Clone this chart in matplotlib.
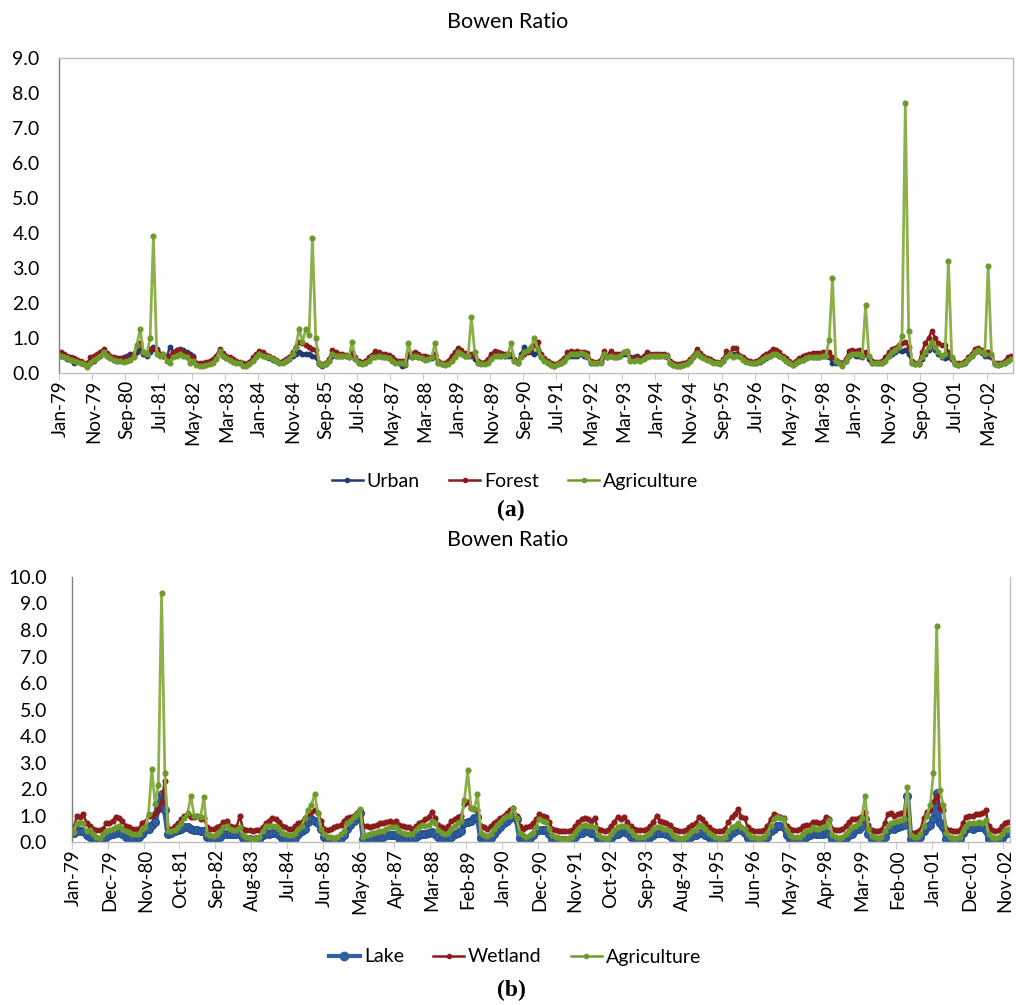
import matplotlib
matplotlib.use("Agg")
import matplotlib.pyplot as plt
import numpy as np
from matplotlib.lines import Line2D

# ---------------------------------------------------------------------------
# Data: monthly Bowen ratio, Jan-79 .. Dec-02 (one row per year)
# ---------------------------------------------------------------------------
urban = [
    0.50, 0.48, 0.40, 0.38, 0.30, 0.38, 0.30, 0.25, 0.20, 0.30, 0.35, 0.45,  # 1979
    0.50, 0.60, 0.50, 0.42, 0.38, 0.35, 0.40, 0.45, 0.50, 0.55, 0.50, 0.60,  # 1980
    0.65, 0.55, 0.50, 0.60, 0.75, 0.70, 0.55, 0.50, 0.45, 0.75, 0.60, 0.65,  # 1981
    0.70, 0.65, 0.60, 0.55, 0.50, 0.30, 0.25, 0.25, 0.25, 0.28, 0.35, 0.45,  # 1982
    0.60, 0.50, 0.42, 0.38, 0.35, 0.32, 0.30, 0.25, 0.25, 0.28, 0.38, 0.48,  # 1983
    0.55, 0.52, 0.48, 0.42, 0.38, 0.35, 0.30, 0.32, 0.35, 0.40, 0.50, 0.55,  # 1984
    0.60, 0.55, 0.55, 0.55, 0.50, 0.45, 0.25, 0.20, 0.25, 0.35, 0.50, 0.50,  # 1985
    0.50, 0.50, 0.48, 0.45, 0.55, 0.40, 0.30, 0.28, 0.30, 0.40, 0.45, 0.52,  # 1986
    0.50, 0.48, 0.45, 0.42, 0.38, 0.32, 0.30, 0.20, 0.22, 0.50, 0.45, 0.50,  # 1987
    0.45, 0.42, 0.40, 0.40, 0.42, 0.50, 0.30, 0.25, 0.25, 0.30, 0.42, 0.50,  # 1988
    0.60, 0.60, 0.50, 0.50, 0.50, 0.40, 0.30, 0.28, 0.28, 0.35, 0.45, 0.55,  # 1989
    0.52, 0.50, 0.50, 0.50, 0.50, 0.35, 0.30, 0.55, 0.75, 0.65, 0.60, 0.55,  # 1990
    0.60, 0.45, 0.38, 0.30, 0.22, 0.20, 0.25, 0.30, 0.35, 0.45, 0.50, 0.50,  # 1991
    0.50, 0.55, 0.50, 0.45, 0.30, 0.28, 0.30, 0.32, 0.50, 0.45, 0.48, 0.45,  # 1992
    0.45, 0.50, 0.55, 0.55, 0.38, 0.45, 0.50, 0.42, 0.42, 0.50, 0.50, 0.50,  # 1993
    0.50, 0.50, 0.48, 0.45, 0.30, 0.22, 0.20, 0.20, 0.22, 0.28, 0.35, 0.45,  # 1994
    0.58, 0.50, 0.45, 0.40, 0.38, 0.32, 0.30, 0.28, 0.35, 0.50, 0.52, 0.55,  # 1995
    0.55, 0.48, 0.42, 0.38, 0.32, 0.30, 0.30, 0.32, 0.38, 0.42, 0.50, 0.55,  # 1996
    0.55, 0.50, 0.42, 0.35, 0.30, 0.22, 0.28, 0.35, 0.38, 0.42, 0.45, 0.45,  # 1997
    0.45, 0.45, 0.48, 0.50, 0.45, 0.30, 0.30, 0.28, 0.25, 0.35, 0.50, 0.55,  # 1998
    0.48, 0.50, 0.45, 0.55, 0.40, 0.30, 0.28, 0.28, 0.30, 0.40, 0.50, 0.55,  # 1999
    0.60, 0.65, 0.62, 0.65, 0.55, 0.30, 0.25, 0.25, 0.40, 0.55, 0.65, 0.75,  # 2000
    0.65, 0.55, 0.45, 0.42, 0.45, 0.40, 0.25, 0.22, 0.25, 0.30, 0.40, 0.50,  # 2001
    0.60, 0.62, 0.58, 0.50, 0.50, 0.45, 0.25, 0.22, 0.25, 0.30, 0.38, 0.45,  # 2002
]
forest = [
    0.60, 0.55, 0.50, 0.45, 0.42, 0.38, 0.35, 0.30, 0.28, 0.45, 0.48, 0.55,
    0.60, 0.70, 0.58, 0.48, 0.45, 0.42, 0.42, 0.40, 0.42, 0.45, 0.55, 0.75,
    0.85, 0.60, 0.55, 0.70, 0.70, 0.65, 0.55, 0.50, 0.45, 0.50, 0.60, 0.65,
    0.65, 0.60, 0.55, 0.50, 0.45, 0.30, 0.28, 0.30, 0.32, 0.35, 0.40, 0.50,
    0.70, 0.58, 0.50, 0.45, 0.40, 0.35, 0.32, 0.28, 0.25, 0.32, 0.45, 0.55,
    0.62, 0.60, 0.52, 0.48, 0.42, 0.38, 0.32, 0.35, 0.40, 0.45, 0.60, 0.75,
    0.90, 0.85, 0.80, 0.75, 0.70, 0.65, 0.30, 0.25, 0.30, 0.40, 0.65, 0.60,
    0.55, 0.55, 0.52, 0.50, 0.60, 0.45, 0.35, 0.30, 0.35, 0.45, 0.52, 0.62,
    0.60, 0.55, 0.55, 0.52, 0.45, 0.38, 0.35, 0.35, 0.35, 0.55, 0.55, 0.60,
    0.55, 0.50, 0.48, 0.45, 0.45, 0.55, 0.35, 0.30, 0.28, 0.35, 0.50, 0.60,
    0.72, 0.65, 0.58, 0.55, 0.55, 0.45, 0.35, 0.30, 0.32, 0.40, 0.55, 0.62,
    0.60, 0.58, 0.55, 0.55, 0.55, 0.40, 0.32, 0.45, 0.55, 0.60, 0.70, 0.80,
    0.90, 0.55, 0.42, 0.35, 0.28, 0.25, 0.30, 0.35, 0.42, 0.60, 0.62, 0.60,
    0.62, 0.60, 0.60, 0.58, 0.35, 0.32, 0.32, 0.38, 0.62, 0.50, 0.62, 0.55,
    0.55, 0.55, 0.60, 0.60, 0.45, 0.40, 0.45, 0.40, 0.48, 0.60, 0.55, 0.55,
    0.55, 0.55, 0.55, 0.52, 0.35, 0.28, 0.25, 0.25, 0.28, 0.32, 0.40, 0.50,
    0.68, 0.58, 0.48, 0.42, 0.40, 0.35, 0.32, 0.30, 0.40, 0.62, 0.55, 0.72,
    0.72, 0.50, 0.45, 0.38, 0.35, 0.32, 0.35, 0.40, 0.50, 0.55, 0.60, 0.68,
    0.65, 0.60, 0.50, 0.42, 0.35, 0.28, 0.35, 0.42, 0.48, 0.52, 0.55, 0.57,
    0.57, 0.58, 0.60, 0.60, 0.60, 0.45, 0.38, 0.32, 0.30, 0.40, 0.62, 0.65,
    0.62, 0.65, 0.60, 0.60, 0.45, 0.35, 0.32, 0.32, 0.35, 0.45, 0.60, 0.68,
    0.72, 0.80, 0.85, 0.90, 0.75, 0.35, 0.28, 0.28, 0.60, 0.85, 1.00, 1.20,
    1.00, 0.85, 0.80, 0.80, 0.60, 0.40, 0.30, 0.28, 0.30, 0.35, 0.45, 0.55,
    0.70, 0.72, 0.65, 0.60, 0.60, 0.50, 0.30, 0.28, 0.30, 0.35, 0.45, 0.50,
]
agri_a = [
    0.50, 0.45, 0.42, 0.38, 0.35, 0.32, 0.28, 0.25, 0.18, 0.30, 0.38, 0.42,
    0.50, 0.60, 0.50, 0.42, 0.38, 0.35, 0.35, 0.32, 0.35, 0.38, 0.45, 0.80,
    1.25, 0.60, 0.55, 1.00, 3.90, 0.55, 0.50, 0.55, 0.35, 0.30, 0.45, 0.50,
    0.55, 0.50, 0.45, 0.30, 0.35, 0.22, 0.20, 0.20, 0.22, 0.25, 0.30, 0.40,
    0.62, 0.50, 0.42, 0.38, 0.32, 0.30, 0.28, 0.20, 0.20, 0.25, 0.35, 0.45,
    0.55, 0.50, 0.45, 0.45, 0.40, 0.35, 0.30, 0.30, 0.35, 0.40, 0.55, 0.75,
    1.25, 0.90, 1.25, 1.10, 3.85, 1.00, 0.30, 0.22, 0.25, 0.35, 0.55, 0.50,
    0.50, 0.48, 0.50, 0.45, 0.90, 0.40, 0.30, 0.25, 0.28, 0.35, 0.45, 0.45,
    0.48, 0.45, 0.45, 0.42, 0.35, 0.30, 0.30, 0.28, 0.25, 0.85, 0.45, 0.50,
    0.45, 0.42, 0.38, 0.40, 0.45, 0.85, 0.30, 0.25, 0.22, 0.25, 0.35, 0.45,
    0.60, 0.55, 0.50, 0.50, 1.60, 0.60, 0.30, 0.25, 0.25, 0.30, 0.40, 0.50,
    0.50, 0.48, 0.50, 0.55, 0.85, 0.35, 0.28, 0.45, 0.60, 0.65, 0.75, 1.00,
    0.70, 0.45, 0.35, 0.30, 0.22, 0.20, 0.25, 0.30, 0.35, 0.45, 0.55, 0.55,
    0.55, 0.58, 0.55, 0.50, 0.30, 0.28, 0.28, 0.30, 0.55, 0.45, 0.50, 0.45,
    0.45, 0.50, 0.60, 0.62, 0.35, 0.35, 0.38, 0.35, 0.40, 0.45, 0.50, 0.50,
    0.50, 0.50, 0.50, 0.48, 0.30, 0.22, 0.20, 0.20, 0.22, 0.25, 0.35, 0.45,
    0.58, 0.50, 0.42, 0.38, 0.35, 0.30, 0.28, 0.25, 0.35, 0.45, 0.55, 0.45,
    0.50, 0.45, 0.38, 0.32, 0.30, 0.28, 0.30, 0.35, 0.40, 0.45, 0.50, 0.55,
    0.55, 0.50, 0.42, 0.35, 0.30, 0.22, 0.28, 0.35, 0.38, 0.42, 0.45, 0.45,
    0.45, 0.47, 0.48, 0.50, 0.95, 2.70, 0.35, 0.30, 0.20, 0.35, 0.50, 0.55,
    0.55, 0.55, 0.50, 1.93, 0.50, 0.30, 0.28, 0.28, 0.30, 0.35, 0.50, 0.60,
    0.65, 0.75, 1.05, 7.70, 1.20, 0.30, 0.25, 0.25, 0.45, 0.60, 0.75, 0.90,
    0.75, 0.60, 0.50, 0.55, 3.20, 0.45, 0.25, 0.22, 0.25, 0.30, 0.40, 0.50,
    0.60, 0.65, 0.60, 0.55, 3.05, 0.55, 0.25, 0.22, 0.25, 0.30, 0.35, 0.40,
]

lake = [
    0.35, 0.45, 0.42, 0.40, 0.25, 0.20, 0.15, 0.10, 0.08, 0.12, 0.20, 0.25,  # 1979
    0.30, 0.35, 0.38, 0.30, 0.20, 0.18, 0.15, 0.15, 0.20, 0.30, 0.45, 0.50,  # 1980
    0.65, 0.75, 1.30, 1.80, 1.20, 0.30, 0.35, 0.40, 0.45, 0.50, 0.55, 0.55,  # 1981
    0.50, 0.45, 0.45, 0.40, 0.40, 0.20, 0.15, 0.12, 0.15, 0.20, 0.30, 0.30,  # 1982
    0.30, 0.30, 0.30, 0.30, 0.15, 0.12, 0.10, 0.08, 0.10, 0.12, 0.25, 0.35,  # 1983
    0.32, 0.35, 0.33, 0.25, 0.15, 0.12, 0.10, 0.10, 0.15, 0.30, 0.40, 0.50,  # 1984
    0.75, 0.85, 0.80, 0.70, 0.50, 0.20, 0.10, 0.08, 0.08, 0.10, 0.15, 0.25,  # 1985
    0.50, 0.65, 0.80, 0.95, 1.10, 0.10, 0.12, 0.15, 0.15, 0.18, 0.20, 0.20,  # 1986
    0.25, 0.28, 0.25, 0.25, 0.15, 0.12, 0.10, 0.10, 0.12, 0.20, 0.25, 0.30,  # 1987
    0.30, 0.35, 0.38, 0.30, 0.20, 0.12, 0.10, 0.12, 0.20, 0.30, 0.35, 0.40,  # 1988
    0.70, 0.75, 0.80, 0.90, 0.95, 0.15, 0.10, 0.10, 0.15, 0.30, 0.45, 0.55,  # 1989
    0.70, 0.80, 0.90, 1.00, 0.85, 0.15, 0.08, 0.10, 0.15, 0.25, 0.40, 0.45,  # 1990
    0.45, 0.45, 0.30, 0.12, 0.10, 0.08, 0.07, 0.07, 0.08, 0.12, 0.20, 0.30,  # 1991
    0.35, 0.40, 0.40, 0.35, 0.30, 0.12, 0.08, 0.07, 0.08, 0.15, 0.25, 0.30,  # 1992
    0.38, 0.40, 0.35, 0.20, 0.10, 0.08, 0.07, 0.07, 0.10, 0.18, 0.28, 0.35,  # 1993
    0.35, 0.33, 0.30, 0.22, 0.10, 0.08, 0.07, 0.07, 0.10, 0.15, 0.22, 0.28,  # 1994
    0.35, 0.35, 0.28, 0.18, 0.10, 0.08, 0.07, 0.07, 0.08, 0.20, 0.35, 0.40,  # 1995
    0.55, 0.45, 0.35, 0.15, 0.08, 0.07, 0.06, 0.06, 0.08, 0.20, 0.40, 0.50,  # 1996
    0.60, 0.60, 0.55, 0.25, 0.10, 0.07, 0.06, 0.07, 0.12, 0.20, 0.28, 0.35,  # 1997
    0.30, 0.30, 0.32, 0.35, 0.30, 0.10, 0.07, 0.06, 0.08, 0.15, 0.25, 0.32,  # 1998
    0.45, 0.50, 0.60, 0.85, 0.30, 0.10, 0.07, 0.06, 0.08, 0.20, 0.45, 0.55,  # 1999
    0.50, 0.55, 0.60, 0.65, 1.73, 0.10, 0.07, 0.07, 0.20, 0.40, 0.55, 0.65,  # 2000
    0.85, 1.85, 0.70, 0.55, 0.10, 0.07, 0.06, 0.06, 0.10, 0.35, 0.50, 0.55,  # 2001
    0.50, 0.55, 0.55, 0.55, 0.45, 0.10, 0.07, 0.06, 0.08, 0.15, 0.30, 0.35,  # 2002
]
wetland = [
    0.55, 0.98, 0.95, 1.05, 0.70, 0.60, 0.50, 0.45, 0.45, 0.50, 0.70, 0.72,
    0.80, 0.95, 0.90, 0.80, 0.60, 0.55, 0.50, 0.50, 0.50, 0.72, 0.75, 1.00,
    1.00, 1.10, 1.20, 1.50, 2.30, 0.50, 0.50, 0.60, 0.70, 0.85, 1.00, 1.05,
    0.95, 0.95, 1.00, 0.85, 0.90, 0.55, 0.50, 0.50, 0.55, 0.60, 0.75, 0.80,
    0.60, 0.55, 0.55, 0.98, 0.50, 0.45, 0.45, 0.40, 0.45, 0.45, 0.55, 0.70,
    0.80, 0.90, 0.85, 0.75, 0.60, 0.55, 0.50, 0.50, 0.60, 0.70, 0.75, 0.90,
    1.10, 1.15, 1.20, 1.10, 0.80, 0.50, 0.45, 0.50, 0.55, 0.60, 0.65, 0.80,
    0.90, 0.95, 1.00, 1.10, 1.20, 0.60, 0.60, 0.55, 0.60, 0.65, 0.70, 0.70,
    0.75, 0.80, 0.72, 0.80, 0.65, 0.60, 0.55, 0.55, 0.50, 0.60, 0.70, 0.75,
    0.85, 0.95, 1.15, 0.90, 0.65, 0.55, 0.50, 0.60, 0.80, 0.85, 0.95, 1.00,
    1.45, 1.50, 1.30, 1.25, 1.20, 0.60, 0.55, 0.50, 0.60, 0.70, 0.80, 0.90,
    1.00, 1.10, 1.20, 1.30, 1.00, 0.60, 0.50, 0.55, 0.60, 0.70, 0.85, 1.05,
    1.00, 0.95, 0.75, 0.50, 0.45, 0.42, 0.40, 0.40, 0.42, 0.45, 0.60, 0.75,
    0.85, 0.90, 0.85, 0.80, 0.90, 0.50, 0.45, 0.42, 0.45, 0.60, 0.75, 0.95,
    0.85, 0.95, 0.75, 0.60, 0.50, 0.45, 0.45, 0.45, 0.50, 0.60, 0.75, 1.00,
    0.80, 0.75, 0.72, 0.65, 0.50, 0.45, 0.42, 0.40, 0.45, 0.55, 0.65, 0.70,
    0.95, 0.85, 0.70, 0.55, 0.45, 0.42, 0.40, 0.40, 0.50, 0.75, 0.95, 1.05,
    1.25, 0.95, 0.90, 0.55, 0.45, 0.42, 0.40, 0.40, 0.45, 0.60, 0.85, 1.05,
    1.00, 0.95, 0.90, 0.60, 0.50, 0.45, 0.45, 0.50, 0.60, 0.65, 0.65, 0.75,
    0.75, 0.70, 0.75, 0.95, 0.85, 0.50, 0.45, 0.45, 0.50, 0.60, 0.75, 0.85,
    0.85, 0.90, 1.00, 1.15, 0.65, 0.45, 0.42, 0.40, 0.45, 0.70, 1.05, 1.10,
    1.00, 1.05, 1.10, 1.10, 1.20, 0.35, 0.35, 0.38, 0.45, 0.90, 1.15, 1.20,
    1.50, 1.75, 1.30, 1.20, 0.50, 0.45, 0.42, 0.40, 0.45, 0.70, 0.95, 1.00,
    1.00, 1.05, 1.05, 1.10, 1.20, 0.60, 0.45, 0.42, 0.45, 0.60, 0.70, 0.75,
]
agri_b = [
    0.38, 0.72, 0.70, 0.70, 0.40, 0.45, 0.30, 0.20, 0.15, 0.30, 0.40, 0.45,
    0.50, 0.55, 0.60, 0.50, 0.40, 0.38, 0.30, 0.30, 0.30, 0.50, 0.55, 1.05,
    2.75, 1.45, 2.15, 9.40, 2.60, 0.40, 0.42, 0.45, 0.55, 0.70, 0.90, 1.10,
    1.73, 1.00, 1.00, 0.95, 1.70, 0.30, 0.25, 0.22, 0.30, 0.40, 0.55, 0.60,
    0.50, 0.45, 0.45, 0.57, 0.25, 0.20, 0.15, 0.12, 0.15, 0.20, 0.40, 0.60,
    0.60, 0.62, 0.60, 0.50, 0.35, 0.30, 0.25, 0.25, 0.35, 0.50, 0.60, 0.90,
    1.20, 1.40, 1.80, 1.10, 0.50, 0.30, 0.20, 0.18, 0.15, 0.20, 0.30, 0.40,
    0.70, 0.80, 0.95, 1.05, 1.25, 0.20, 0.25, 0.30, 0.35, 0.38, 0.40, 0.40,
    0.50, 0.55, 0.55, 0.55, 0.40, 0.35, 0.30, 0.30, 0.30, 0.45, 0.55, 0.65,
    0.60, 0.65, 0.80, 0.70, 0.45, 0.35, 0.30, 0.35, 0.50, 0.60, 0.70, 0.80,
    1.60, 2.70, 1.30, 1.25, 1.80, 0.35, 0.25, 0.22, 0.30, 0.50, 0.65, 0.75,
    0.90, 1.00, 1.00, 1.30, 0.90, 0.35, 0.25, 0.20, 0.25, 0.35, 0.55, 0.85,
    0.80, 0.75, 0.50, 0.25, 0.18, 0.15, 0.12, 0.12, 0.15, 0.20, 0.35, 0.50,
    0.60, 0.65, 0.62, 0.60, 0.55, 0.25, 0.18, 0.15, 0.15, 0.30, 0.45, 0.55,
    0.60, 0.62, 0.55, 0.40, 0.25, 0.20, 0.18, 0.18, 0.25, 0.35, 0.50, 0.55,
    0.55, 0.50, 0.50, 0.40, 0.25, 0.18, 0.15, 0.15, 0.20, 0.30, 0.40, 0.45,
    0.65, 0.60, 0.50, 0.35, 0.25, 0.20, 0.15, 0.15, 0.20, 0.40, 0.55, 0.60,
    0.70, 0.55, 0.50, 0.30, 0.20, 0.18, 0.15, 0.15, 0.20, 0.35, 0.60, 0.85,
    0.95, 0.90, 0.85, 0.45, 0.25, 0.20, 0.18, 0.20, 0.30, 0.40, 0.45, 0.55,
    0.50, 0.50, 0.55, 0.60, 0.82, 0.25, 0.18, 0.15, 0.18, 0.30, 0.45, 0.55,
    0.60, 0.70, 0.90, 1.73, 0.50, 0.22, 0.18, 0.15, 0.20, 0.40, 0.60, 0.70,
    0.75, 0.80, 0.82, 0.85, 2.08, 0.25, 0.20, 0.20, 0.30, 0.60, 1.00, 1.40,
    2.60, 8.15, 1.95, 1.40, 0.35, 0.20, 0.15, 0.15, 0.20, 0.40, 0.60, 0.70,
    0.70, 0.72, 0.75, 0.70, 0.82, 0.30, 0.20, 0.15, 0.20, 0.30, 0.45, 0.50,
]

labels_a = ["Jan-79", "Nov-79", "Sep-80", "Jul-81", "May-82", "Mar-83",
            "Jan-84", "Nov-84", "Sep-85", "Jul-86", "May-87", "Mar-88",
            "Jan-89", "Nov-89", "Sep-90", "Jul-91", "May-92", "Mar-93",
            "Jan-94", "Nov-94", "Sep-95", "Jul-96", "May-97", "Mar-98",
            "Jan-99", "Nov-99", "Sep-00", "Jul-01", "May-02"]
labels_b = ["Jan-79", "Dec-79", "Nov-80", "Oct-81", "Sep-82", "Aug-83",
            "Jul-84", "Jun-85", "May-86", "Apr-87", "Mar-88", "Feb-89",
            "Jan-90", "Dec-90", "Nov-91", "Oct-92", "Sep-93", "Aug-94",
            "Jul-95", "Jun-96", "May-97", "Apr-98", "Mar-99", "Feb-00",
            "Jan-01", "Dec-01", "Nov-02"]
step_a = 10
step_b = 11

BLUE_A = "#1F3B73"
BLUE_B = "#2F60A3"
RED = "#8C1B1B"
GREEN = "#8DB04A"
GREEN_DK = "#6E9A2C"
FONT = "Lato"

plt.rcParams["font.family"] = FONT

W, H = 1016, 1005
fig = plt.figure(figsize=(W / 100, H / 100), dpi=100)


def fx(px):
    return px / W


def fy(py):
    return 1 - py / H


def style_axis(ax, n, labels, step, ymax, ypad):
    ax.set_xlim(-0.5, n - 0.5)
    ax.set_ylim(0, ymax)
    yt = np.arange(0, ymax + 0.01, 1.0)
    ax.set_yticks(yt)
    ax.set_yticklabels([f"{v:.1f}" for v in yt], fontsize=14)
    pos = np.arange(len(labels)) * step
    ax.set_xticks(pos)
    ax.set_xticklabels(labels, rotation=90, fontsize=13.5)
    ax.tick_params(axis="x", which="major", length=0, pad=5)
    ax.set_xticks(np.arange(0, n + 1, step) - 0.5, minor=True)
    ax.tick_params(axis="x", which="minor", length=5, color="#BFBFBF")
    ax.tick_params(axis="y", length=0, pad=ypad)
    for s in ax.spines.values():
        s.set_color("#BFBFBF")
        s.set_linewidth(1.0)


# ---------------------------------------------------------------------------
# (a) Urban / Forest / Agriculture
# ---------------------------------------------------------------------------
ax1 = fig.add_axes([fx(59), fy(373), fx(1013) - fx(59), fy(58) - fy(373)])
xa = np.arange(len(urban))
ax1.plot(xa, urban, color=BLUE_A, lw=1.8, marker="o", ms=3.2,
         mfc=BLUE_A, mec=BLUE_A)
ax1.plot(xa, forest, color=RED, lw=1.8, marker="o", ms=3.2, mfc=RED, mec=RED)
ax1.plot(xa, agri_a, color=GREEN, lw=2.0, marker="o", ms=3.4,
         mfc=GREEN_DK, mec=GREEN_DK)
style_axis(ax1, len(urban), labels_a, step_a, 9.0, 14)
ax1.spines["left"].set_color("#808080")

fig.text(0.5, fy(22), "Bowen Ratio", ha="center", va="center", fontsize=15.5)
handles_a = [
    Line2D([], [], color=BLUE_A, lw=1.8, marker="o", ms=3),
    Line2D([], [], color=RED, lw=1.8, marker="o", ms=3),
    Line2D([], [], color=GREEN_DK, lw=1.8, marker="o", ms=3),
]
fig.legend(handles_a, ["Urban", "Forest", "Agriculture"], ncol=3,
           loc="center", bbox_to_anchor=(fx(515), fy(481)), frameon=False,
           fontsize=14, handlelength=1.6, handletextpad=0.2,
           columnspacing=1.5)
fig.text(fx(511), fy(510), "(a)", ha="center", va="center", fontsize=17,
         family="Liberation Serif", weight="bold")

# ---------------------------------------------------------------------------
# (b) Lake / Wetland / Agriculture
# ---------------------------------------------------------------------------
ax2 = fig.add_axes([fx(72), fy(842), fx(1010) - fx(72), fy(577) - fy(842)])
xb = np.arange(len(lake))
ax2.plot(xb, lake, color=BLUE_B, lw=4.0, marker="o", ms=5.5,
         mfc=BLUE_B, mec="#25508C", solid_capstyle="round")
ax2.plot(xb, wetland, color=RED, lw=1.8, marker="o", ms=3.4, mfc=RED,
         mec=RED)
ax2.plot(xb, agri_b, color=GREEN, lw=2.0, marker="o", ms=3.4,
         mfc=GREEN_DK, mec=GREEN_DK)
style_axis(ax2, len(lake), labels_b, step_b, 10.0, 18)
ax2.spines["top"].set_visible(False)
ax2.spines["left"].set_color("#808080")

fig.text(0.5, fy(540), "Bowen Ratio", ha="center", va="center", fontsize=15.5)
handles_b = [
    Line2D([], [], color=BLUE_B, lw=3, marker="o", ms=6),
    Line2D([], [], color=RED, lw=1.8, marker="o", ms=3),
    Line2D([], [], color=GREEN_DK, lw=1.8, marker="o", ms=3),
]
fig.legend(handles_b, ["Lake", "Wetland", "Agriculture"], ncol=3,
           loc="center", bbox_to_anchor=(fx(515), fy(957)), frameon=False,
           fontsize=14, handlelength=1.6, handletextpad=0.2,
           columnspacing=1.5)
fig.text(fx(511), fy(990), "(b)", ha="center", va="center", fontsize=17,
         family="Liberation Serif", weight="bold")

fig.savefig("out.png", dpi=100)
